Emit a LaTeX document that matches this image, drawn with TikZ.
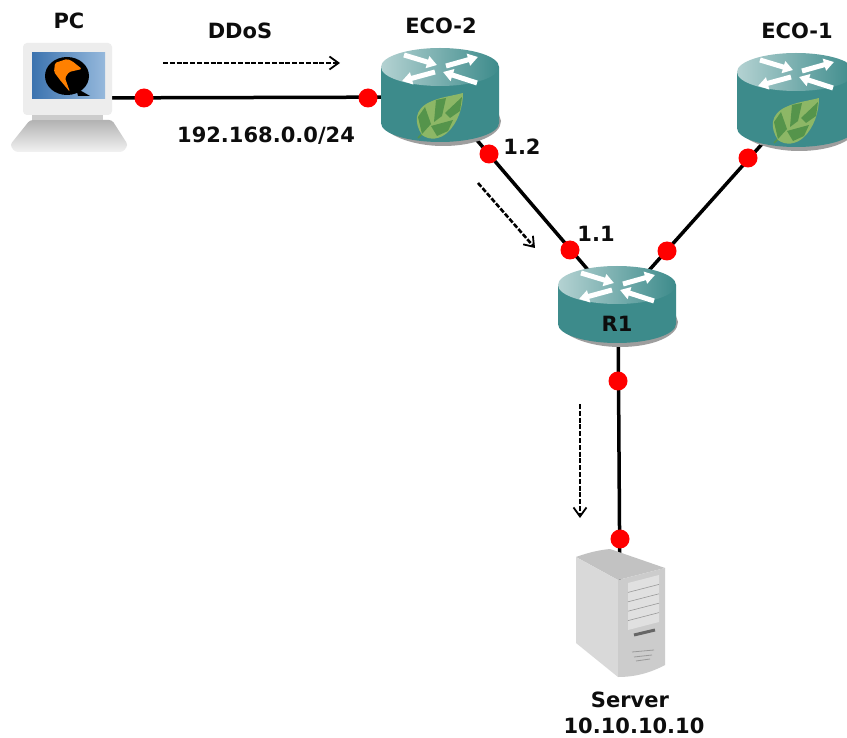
\documentclass[tikz,border=0pt]{standalone}
\usepackage{fontspec}
\setmainfont{DejaVu Sans}
\usetikzlibrary{arrows.meta}
\definecolor{teal1}{HTML}{3D8B8B}
\definecolor{teal2}{HTML}{B4D2D2}
\definecolor{leafA}{HTML}{8DB766}
\definecolor{leafB}{HTML}{55944B}
\definecolor{scrA}{RGB}{60,115,175}
\definecolor{scrB}{RGB}{150,185,220}
\tikzset{
  anchorpt/.style={inner sep=0pt,minimum size=0pt},
  link/.style={line width=3.5pt,black},
  port/.style={circle,fill=red,inner sep=0pt,minimum size=19pt},
  flow/.style={line width=2.6pt,black,dash pattern=on 5pt off 1.8pt,-{Straight Barb[width=13pt,length=9pt,line width=1.8pt]}},
  lbl/.style={font=\fontsize{21pt}{24pt}\selectfont\bfseries,inner sep=0pt,text=black!95},
  barbarrow/.style={white,line width=5pt,-{Triangle[width=12pt,length=10pt]}}
}
\newcommand{\routerIcon}[3]{%
\begin{scope}[shift={(#1,#2)}]
\fill[black!38] (-57,#3) .. controls (-57,#3+10.5) and (-30,#3+23) .. (3,#3+23) .. controls (36,#3+23) and (61,#3+12) .. (61,#3-2) -- (59,#3-8) -- cycle;
\fill[teal1] (-59,0) -- (-59,#3) .. controls (-59,#3+10.5) and (-32.6,#3+19) .. (0,#3+19) .. controls (32.6,#3+19) and (59,#3+10.5) .. (59,#3) -- (59,0) -- cycle;
\shade[left color=teal2,middle color=teal1,right color=teal1] (0,0) ellipse [x radius=59,y radius=19];
\draw[barbarrow] (-36,-12) -- (-3,-2);
\draw[barbarrow] (6,-1) -- (38,-10);
\draw[barbarrow] (-5,5) -- (-38,14);
\draw[barbarrow] (37,16) -- (3,5);
\end{scope}}
\newcommand{\leafIcon}[2]{%
\begin{scope}[shift={(#1,#2)}]
\draw[leafB,line width=1.5pt] (-22,23) -- (-16,17);
\fill[leafA] (-18,20) .. controls (-26,8) and (-26,-6) .. (-10,-13) .. controls (0,-18) and (12,-19) .. (23,-22) .. controls (23,-8) and (18,8) .. (7,18) .. controls (0,24) and (-10,26) .. (-18,20) -- cycle;
\fill[leafB] (-18,19) -- (-22,2) -- (-15,-8) -- (-9,9) -- cycle;
\fill[leafB] (-6,7) -- (-4,-15) -- (6,-17) -- (2,1) -- cycle;
\fill[leafB] (-9,11) -- (13,5) -- (8,16) -- (-3,21) -- cycle;
\fill[leafB] (5,-2) -- (22,-18) -- (20,-4) -- (10,3) -- cycle;
\end{scope}}
\begin{document}
\begin{tikzpicture}[x=1pt,y=-1pt]
\useasboundingbox (0,0) rectangle (847,738);
\fill[white] (0,0) rectangle (847,738);
% device centres
\node[anchorpt] (pc) at (69,98) {};
\node[anchorpt] (eco2) at (440,97) {};
\node[anchorpt] (eco1) at (796,106) {};
\node[anchorpt] (r1) at (618,305) {};
\node[anchorpt] (srv) at (620,600) {};
% links
\draw[link] (pc) -- (eco2);
\draw[link] (eco2) -- (r1);
\draw[link] (eco1) -- (r1);
\draw[link] (r1) -- (srv);
% routers
\routerIcon{440}{67}{56}
\leafIcon{440}{115}
\routerIcon{796}{72}{56}
\leafIcon{796}{120}
\routerIcon{617}{285}{39}
% PC
\fill[black!7,rounded corners=4pt] (23,43) rectangle (112,115);
\shade[top color=black!30,bottom color=black!5,rounded corners=3pt] (30,120) -- (112,120) -- (128,145) -- (123,152) -- (15,152) -- (10,145) -- cycle;
\fill[black!20] (32,115) rectangle (103,120);
\shade[left color=scrA,right color=scrB] (32,53) rectangle (105,99);
\fill[black] (67,76) ellipse [x radius=22,y radius=19];
\fill[black] (76,88) -- (90,96) -- (78,96) -- cycle;
\fill[orange,rounded corners=1.5pt] (55,63) -- (67,59) -- (72,61) -- (82,69) -- (69,72) -- (65,78) -- (70,92) -- (60,80) -- (54,72) -- cycle;
% server
\fill[black!24] (576,557) .. controls (590,552) and (600,550) .. (610,549) -- (665,568) -- (618,580) -- cycle;
\fill[black!15] (576,557) -- (618,580) -- (618,677) -- (576,643) -- cycle;
\fill[black!20] (618,580) -- (665,568) -- (665,665) .. controls (650,673) and (635,677) .. (618,677) -- cycle;
\fill[black!12] (628,583) -- (659,575) -- (659,622) -- (628,630) -- cycle;
\foreach \k in {1,...,4} {\draw[black!40,line width=.6pt] (628,583+\k*9.4) -- (659,575+\k*9.4);}
\draw[black!60,line width=3pt] (634,635) -- (655,630);
\foreach \y/\a in {652/8,657/6,661/4} {\draw[black!40,line width=.8pt] (640-\a,\y) -- (646+\a,\y-2);}
% flow arrows
\coordinate (f1a) at (163,63); \coordinate (f1b) at (340,63);
\coordinate (f2a) at (478,183); \coordinate (f2b) at (535,248);
\coordinate (f3a) at (580,404); \coordinate (f3b) at (580,518);
\draw[flow] (f1a) -- (f1b);
\draw[flow] (f2a) -- (f2b);
\draw[flow] (f3a) -- (f3b);
% ports
\node[port] (p1) at (144,98) {};
\node[port] (p2) at (368,98) {};
\node[port] (p3) at (489,154) {};
\node[port] (p4) at (570,250) {};
\node[port] (p5) at (667,251) {};
\node[port] (p6) at (748,158) {};
\node[port] (p7) at (618,381) {};
\node[port] (p8) at (620,539) {};
% labels
\node[lbl] (tpc) at (69,21) {PC};
\node[lbl] (tddos) at (240,31) {DDoS};
\node[lbl] (teco2) at (441,26) {ECO-2};
\node[lbl] (teco1) at (797,31) {ECO-1};
\node[lbl] (tnet) at (266,136) {192.168.0.0/24};
\node[lbl] (t12) at (522,147) {1.2};
\node[lbl] (t11) at (596,234) {1.1};
\node[lbl] (tr1) at (617,324) {R1};
\node[lbl] (tsrv) at (630,700) {Server};
\node[lbl] (tip) at (634,726) {10.10.10.10};
\end{tikzpicture}
\end{document}
